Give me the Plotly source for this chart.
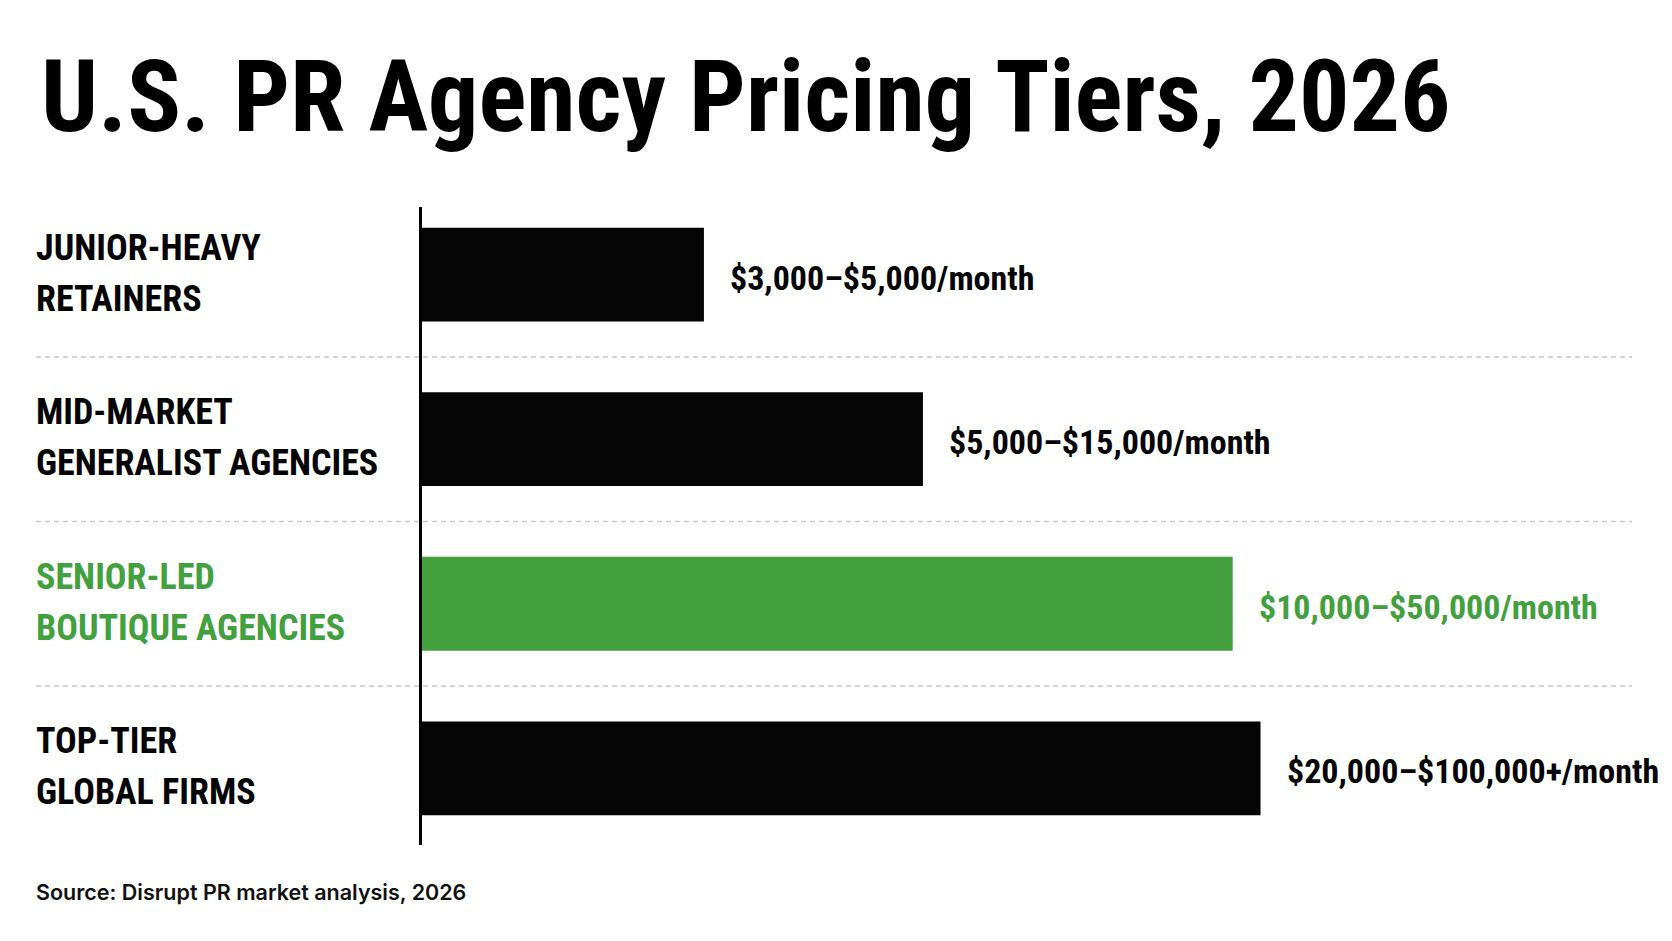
import plotly.graph_objects as go

# ---- data ----
categories = [
    "JUNIOR-HEAVY<br>RETAINERS",
    "MID-MARKET<br>GENERALIST AGENCIES",
    "SENIOR-LED<br>BOUTIQUE AGENCIES",
    "TOP-TIER<br>GLOBAL FIRMS",
]
bar_length_index = [23.3, 41.4, 67.0, 69.3]  # relative bar lengths
price_labels = [
    "$3,000–$5,000/month",
    "$5,000–$15,000/month",
    "$10,000–$50,000/month",
    "$20,000–$100,000+/month",
]
highlight = [False, False, True, False]

title_text = "U.S. PR Agency Pricing Tiers, 2026"
source_text = "Source: Disrupt PR market analysis, 2026"

# ---- styles ----
BLACK = "#050505"
GREEN = "#43A03F"
NARROW = "Roboto Condensed, Noto Sans Condensed, DejaVu Sans Condensed, sans-serif"

W, H = 1672, 941
L, R, T, B = 414, 48, 199, 104
plot_w = W - L - R
plot_h = H - T - B

colors = [GREEN if h else BLACK for h in highlight]

fig = go.Figure()
fig.add_trace(go.Bar(
    x=bar_length_index,
    y=categories,
    orientation="h",
    marker=dict(color=colors, line=dict(width=0)),
    width=0.57,
    hoverinfo="skip",
))

annotations = []
for cat, val, lab, col in zip(categories, bar_length_index, price_labels, colors):
    lines = cat.split("<br>")
    for j, line in enumerate(lines):
        annotations.append(dict(
            x=(26 - L) / plot_w, xref="paper", xanchor="left",
            y=cat, yref="y", yanchor="middle",
            yshift=27 - 51 * j,
            text=line, align="left", showarrow=False,
            font=dict(family=NARROW, size=36, color=col, weight="bold"),
        ))
    annotations.append(dict(
        x=val, xref="x", xanchor="left", xshift=24,
        y=cat, yref="y", yanchor="middle", yshift=-3,
        text=lab, showarrow=False,
        font=dict(family=NARROW, size=34, color=col, weight="bold"),
    ))

annotations.append(dict(
    x=(26 - L) / plot_w, xref="paper", xanchor="left",
    y=(T + plot_h - 884) / plot_h, yref="paper", yanchor="middle",
    text=source_text, showarrow=False,
    font=dict(family="Inter, Liberation Sans, sans-serif", size=21.5, color="#111111", weight=600),
))

shapes = []
for i in range(len(categories) - 1):
    shapes.append(dict(
        type="line", xref="paper", yref="y",
        x0=(28 - L) / plot_w, x1=1.0,
        y0=i + 0.5, y1=i + 0.5,
        line=dict(color="#c9c9c9", width=1.5, dash="5px,4px"),
        layer="below",
    ))

fig.update_layout(
    width=W, height=H,
    margin=dict(l=L, r=R, t=T, b=B),
    paper_bgcolor="white", plot_bgcolor="white",
    showlegend=False,
    title=dict(
        text=title_text,
        x=33 / W, xanchor="left", xref="container",
        y=1 - 88 / H, yanchor="middle", yref="container",
        font=dict(family=NARROW, size=100, color="#000000", weight="bold"),
    ),
    xaxis=dict(visible=False, range=[0, 100], fixedrange=True),
    yaxis=dict(
        type="category",
        categoryorder="array", categoryarray=categories,
        range=[3.466, -0.411],
        showticklabels=False, showgrid=False, zeroline=False,
        showline=True, linecolor="#000000", linewidth=2.5,
        ticks="", fixedrange=True,
    ),
    annotations=annotations,
    shapes=shapes,
)

fig.write_html("out.html")
